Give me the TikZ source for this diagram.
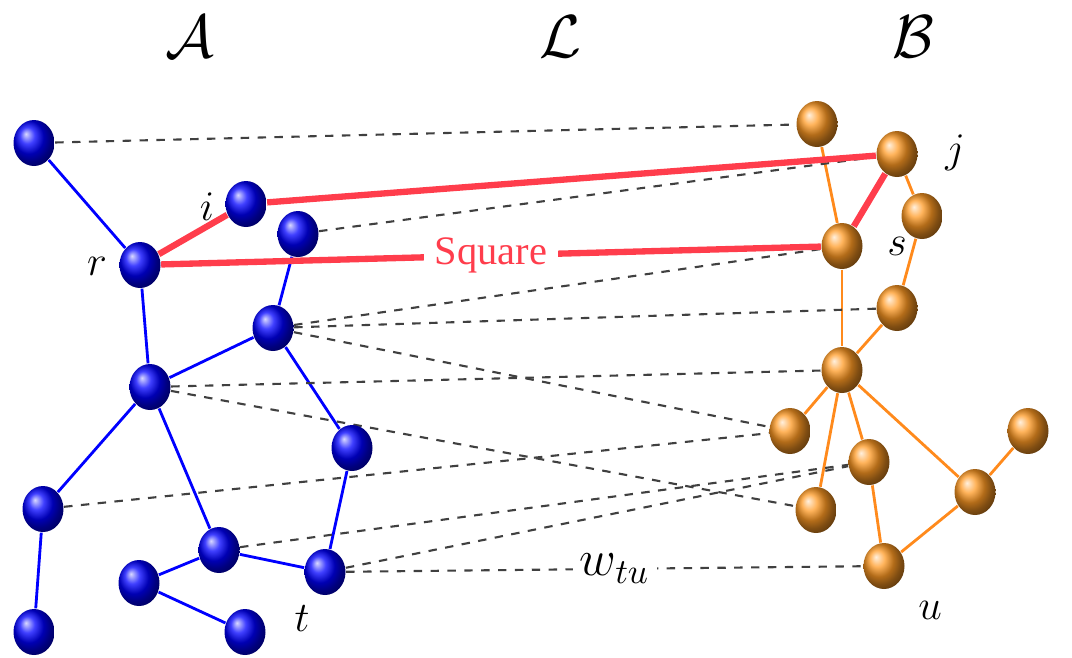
\documentclass[tikz,border=0pt]{standalone}
\usepackage{amsmath, amssymb}
\usepackage{fontspec}
\newfontfamily\sqfont{Liberation Serif}
\usetikzlibrary{shapes.geometric, backgrounds}
\definecolor{mBlue}{HTML}{0000FF}
\definecolor{mOrange}{HTML}{FF8A1C}
\definecolor{mBall}{HTML}{FF9A24}
\definecolor{mRed}{HTML}{FF3D4C}

\begin{document}
\begin{tikzpicture}[x=0.1mm, y=-0.1mm,
      ba/.style={ellipse, minimum width=4.1mm, minimum height=4.6mm, inner sep=0pt, ball color=blue},
      bb/.style={ellipse, minimum width=4.1mm, minimum height=4.6mm, inner sep=0pt, ball color=mBall},
      ea/.style={mBlue, line width=0.8pt},
      eb/.style={mOrange, line width=0.8pt},
      sq/.style={mRed, line width=1.8pt},
      lk/.style={black!75, line width=0.6pt, dash pattern=on 2.4pt off 2.4pt},
      lbl/.style={font=\large},
      hd/.style={font=\fontsize{16}{16}\selectfont, inner sep=0pt}]
    \useasboundingbox (0,0) rectangle (1072,657);
    % graph A
    \foreach \n/\x/\y in {a1/34/143, i/246/204, a3/298/234, r/140/265, a5/273/328,
        a6/150/387, a7/352/448, a8/43/509, a9/219/550, t/325/572, a11/139/583,
        a12/34/632, a13/245/632} {
      \node[ba] (\n) at (\x,\y) {};
    }
    % graph B
    \foreach \n/\x/\y in {b1/817/124, j/897/154, b3/922/216, s/842/246, b5/897/308,
        b6/842/370, b7/790/431, b8/869/462, b9/1028/431, b10/975/492, b11/816/510,
        u/884/566} {
      \node[bb] (\n) at (\x,\y) {};
    }
    \begin{scope}[on background layer]
      \foreach \p/\q in {a1/r, r/a6, a3/a5, a5/a6, a5/a7, a6/a8, a6/a9, a7/t,
          a9/t, a9/a11, a11/a13, a8/a12}
        \draw[ea] (\p) -- (\q);
      \foreach \p/\q in {b1/s, j/b3, b3/b5, b5/b6, s/b6, b6/b7, b6/b11, b6/b8,
          b6/b10, b9/b10, b10/u, b8/u}
        \draw[eb] (\p) -- (\q);
      % links between the graphs
      \foreach \p/\q in {a1/b1, a3/j, a5/s, a5/b5, a5/b7, a6/b6, a6/b11, a8/b7,
          a9/b8, t/b8}
        \draw[lk] (\p) -- (\q);
      \draw[lk] (t) -- node[pos=0.52, fill=white, text=black, inner sep=2pt, font=\Large] (wtu) {$w_{tu}$} (u);
      % the square
      \draw[sq] (r) -- (i) -- (j) -- (s);
      \draw[sq] (r) -- node[pos=0.5, fill=white, text=mRed, inner sep=3pt,
          font=\sqfont\fontsize{11.5}{12}\selectfont] (sqlbl) {Square} (s);
    \end{scope}
    % labels
    \node[hd] (hA) at (190,37) {$\mathcal{A}$};
    \node[hd] (hL) at (560,37) {$\mathcal{L}$};
    \node[hd] (hB) at (913,37) {$\mathcal{B}$};
    \node[lbl] (li) at (207,207) {$i$};
    \node[lbl] (lr) at (97,266) {$r$};
    \node[lbl] (lj) at (955,153) {$j$};
    \node[lbl] (ls) at (897,246) {$s$};
    \node[lbl] (lt) at (302,619) {$t$};
    \node[lbl] (lu) at (930,610) {$u$};
  \end{tikzpicture}
\end{document}
